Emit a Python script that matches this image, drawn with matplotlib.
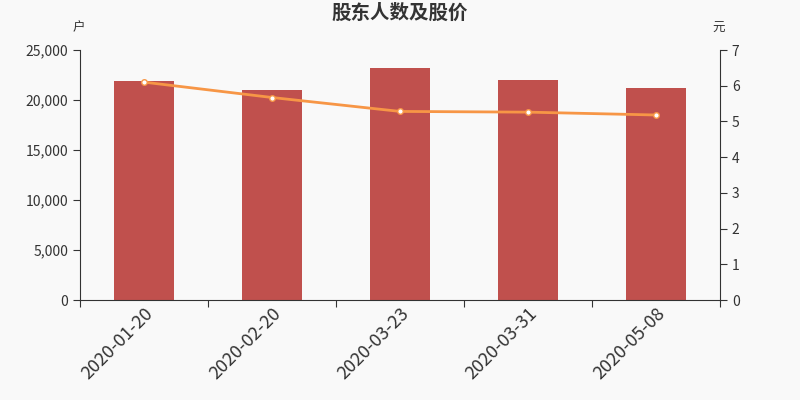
"""
Shareholder count and share price chart.
"""

import numpy as np
import matplotlib
matplotlib.use('Agg')
import matplotlib.pyplot as plt
from matplotlib.ticker import FuncFormatter

plt.rcParams['font.family'] = ['Noto Sans CJK SC', 'DejaVu Sans']

# Data
dates = ['2020-01-20', '2020-02-20', '2020-03-23', '2020-03-31', '2020-05-08']
holders = [21900, 21030, 23170, 22000, 21170]
price = [6.10, 5.67, 5.28, 5.26, 5.18]

bg = '#f9f9f9'
bar_color = '#c0504d'
line_color = '#f79646'
text_color = '#333333'

fig = plt.figure(figsize=(8, 4), dpi=100, facecolor=bg)
ax = fig.add_axes([0.1, 0.25, 0.8, 0.625], facecolor=bg)

x = np.arange(len(dates))
ax.bar(x, holders, width=0.47, color=bar_color, zorder=2)
ax.set_xlim(-0.5, len(dates) - 0.5)
ax.set_ylim(0, 25000)
ax.set_yticks(np.arange(0, 25001, 5000))
ax.yaxis.set_major_formatter(FuncFormatter(lambda v, p: f'{int(v):,}'))

# category boundary ticks, labels centred on categories
ax.set_xticks(np.arange(-0.5, len(dates), 1.0))
ax.set_xticklabels([])
ax.set_xticks(x, minor=True)
ax.set_xticklabels(dates, minor=True, rotation=45, ha='right',
                   rotation_mode='anchor', fontsize=13, color=text_color)
ax.tick_params(axis='x', which='minor', length=0, pad=3)
ax.tick_params(axis='x', which='major', length=5, color=text_color)
ax.tick_params(axis='y', labelsize=10, colors=text_color, length=5)

ax2 = ax.twinx()
ax2.plot(x, price, color=line_color, linewidth=2, marker='o', markersize=4,
         markerfacecolor='white', markeredgecolor=line_color,
         markeredgewidth=1, zorder=3)
ax2.set_ylim(0, 7)
ax2.set_yticks(np.arange(0, 8, 1))
ax2.tick_params(axis='y', labelsize=10, colors=text_color, length=5)

for a in (ax, ax2):
    a.spines['top'].set_visible(False)
    for s in ('left', 'right', 'bottom'):
        a.spines[s].set_color(text_color)
ax.spines['right'].set_visible(False)
ax2.spines['left'].set_visible(False)
ax2.spines['bottom'].set_visible(False)

fig.text(0.5, 0.967, '股东人数及股价', ha='center', va='center',
         fontsize=14, fontweight='bold', color=text_color)
fig.text(0.098, 0.93, '户', ha='center', va='center', fontsize=9, color=text_color)
fig.text(0.898, 0.93, '元', ha='center', va='center', fontsize=9, color=text_color)

fig.savefig('out.png', dpi=100, facecolor=bg)
